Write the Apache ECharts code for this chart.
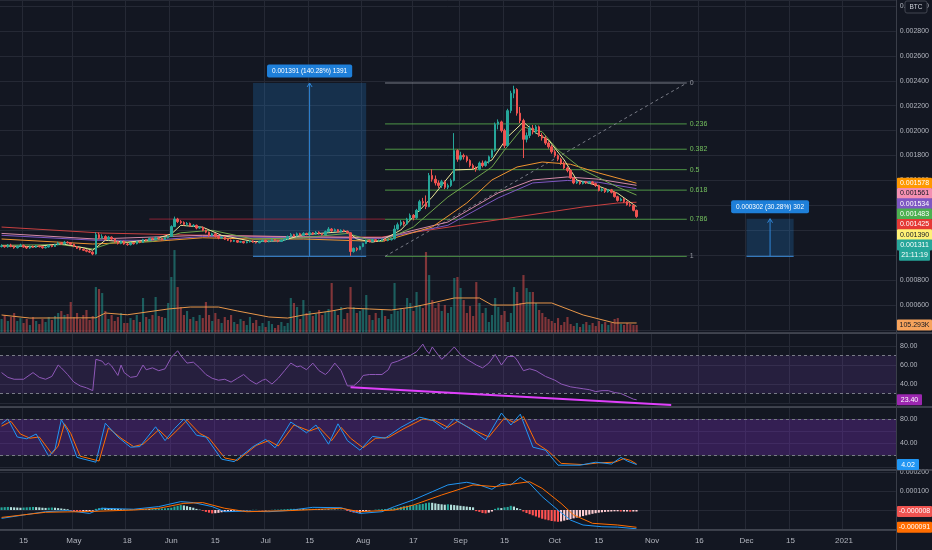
<!DOCTYPE html>
<html><head><meta charset="utf-8">
<script src="https://cdn.jsdelivr.net/npm/echarts@6.0.0/dist/echarts.min.js"></script>
<style>html,body{margin:0;padding:0;background:#131722;}#c{width:932px;height:550px;}</style>
</head><body><div id="c"></div>
<script>
const FONT = '"Liberation Sans", Arial, sans-serif';
// ---------- axis data ----------
const startDay = Date.UTC(2020, 3, 8);
const dayCount = 285;
const categories = [];
for (let k = 0; k < dayCount; k++) categories.push(new Date(startDay + k * 86400000).toISOString().slice(0, 10));
const tickDates = ['2020-04-15','2020-05-01','2020-05-18','2020-06-01','2020-06-15','2020-07-01','2020-07-15','2020-08-01','2020-08-17','2020-09-01','2020-09-15','2020-10-01','2020-10-15','2020-11-01','2020-11-16','2020-12-01','2020-12-15','2021-01-01'];
const tickTexts = ['15','May','18','Jun','15','Jul','15','Aug','17','Sep','15','Oct','15','Nov','16','Dec','15','2021'];

// ---------- candles (price in 0.000001 BTC) ----------
const opens = [1070,1075,1068,1082,1070,1060,1072,1080,1066,1058,
1070,1064,1075,1069,1060,1066,1078,1070,1085,1098,
1092,1105,1100,1088,1070,1055,1048,1040,1032,1025,
1010,1165,1140,1150,1128,1145,1130,1108,1095,1112,
1090,1085,1098,1092,1110,1102,1125,1118,1135,1128,
1140,1132,1125,1140,1150,1230,1290,1270,1262,1248,
1255,1235,1240,1218,1225,1200,1185,1160,1172,1150,
1138,1145,1128,1120,1112,1118,1105,1110,1100,1108,
1115,1105,1100,1112,1120,1108,1115,1125,1118,1110,
1122,1130,1150,1165,1155,1172,1160,1175,1168,1180,
1170,1185,1172,1165,1190,1210,1195,1205,1188,1200,
1192,1180,1030,1055,1045,1070,1095,1118,1110,1125,
1115,1120,1128,1118,1125,1132,1210,1245,1265,1250,
1290,1320,1300,1360,1430,1420,1390,1640,1610,1580,
1560,1590,1545,1560,1600,1840,1770,1800,1790,1760,
1720,1700,1690,1740,1720,1750,1790,1840,2050,2070,
2000,1880,2160,2300,2330,2140,2080,1930,1960,2020,
1990,2030,1960,1940,1900,1870,1830,1800,1770,1740,
1700,1680,1620,1580,1590,1575,1590,1580,1588,1575,
1560,1520,1530,1510,1525,1505,1470,1440,1450,1430,
1405,1400,1360];
const closes = [1075,1068,1082,1070,1060,1072,1080,1066,1058,1070,
1064,1075,1069,1060,1066,1078,1070,1085,1098,1092,
1105,1100,1088,1070,1055,1048,1040,1032,1025,1010,
1165,1140,1150,1128,1145,1130,1108,1095,1112,1090,
1085,1098,1092,1110,1102,1125,1118,1135,1128,1140,
1132,1125,1140,1150,1230,1290,1270,1262,1248,1255,
1235,1240,1218,1225,1200,1185,1160,1172,1150,1138,
1145,1128,1120,1112,1118,1105,1110,1100,1108,1115,
1105,1100,1112,1120,1108,1115,1125,1118,1110,1122,
1130,1150,1165,1155,1172,1160,1175,1168,1180,1170,
1185,1172,1165,1190,1210,1195,1205,1188,1200,1192,
1180,1030,1055,1045,1070,1095,1118,1110,1125,1115,
1120,1128,1118,1125,1132,1210,1245,1265,1250,1290,
1320,1300,1360,1430,1420,1390,1640,1610,1580,1560,
1590,1545,1560,1600,1840,1770,1800,1790,1760,1720,
1700,1690,1740,1720,1750,1790,1840,2050,2070,2000,
1880,2160,2300,2330,2140,2080,1930,1960,2020,1990,
2030,1960,1940,1900,1870,1830,1800,1770,1740,1700,
1680,1620,1580,1590,1575,1590,1580,1588,1575,1560,
1520,1530,1510,1525,1505,1470,1440,1450,1430,1405,
1400,1360,1311];
const highs = [1088,1082,1090,1092,1078,1080,1092,1086,1072,1078,
1078,1082,1080,1074,1072,1086,1084,1092,1108,1106,
1115,1112,1104,1092,1074,1062,1055,1046,1040,1032,
1185,1182,1168,1160,1155,1152,1138,1115,1120,1118,
1098,1104,1104,1116,1116,1132,1130,1142,1140,1150,
1146,1138,1146,1158,1240,1310,1300,1282,1272,1266,
1262,1250,1246,1232,1230,1206,1190,1180,1178,1156,
1152,1150,1134,1126,1124,1122,1116,1115,1114,1122,
1120,1110,1116,1126,1124,1120,1132,1130,1122,1128,
1136,1158,1178,1172,1182,1180,1185,1180,1192,1186,
1194,1192,1178,1198,1226,1218,1215,1210,1208,1206,
1198,1185,1062,1064,1076,1100,1125,1124,1132,1130,
1126,1134,1132,1130,1138,1240,1262,1282,1276,1300,
1335,1330,1372,1445,1460,1480,1660,1690,1640,1600,
1605,1600,1575,1615,1980,1850,1830,1815,1800,1770,
1735,1712,1752,1760,1760,1800,1850,2065,2090,2080,
2015,2175,2320,2360,2340,2190,2095,1985,2040,2045,
2045,2040,1980,1960,1915,1885,1845,1810,1782,1752,
1712,1690,1628,1600,1598,1598,1596,1595,1596,1582,
1566,1538,1540,1532,1532,1512,1478,1462,1458,1436,
1418,1408,1366];
const lows = [1062,1060,1060,1064,1052,1054,1066,1060,1050,1052,
1058,1058,1062,1052,1054,1062,1064,1066,1080,1084,
1088,1094,1080,1064,1050,1040,1034,1024,1018,1000,
1005,1130,1128,1120,1118,1122,1100,1086,1088,1084,
1076,1078,1086,1088,1096,1098,1110,1112,1120,1122,
1126,1118,1120,1134,1146,1225,1258,1250,1238,1236,
1226,1226,1208,1210,1192,1176,1148,1152,1142,1128,
1130,1122,1114,1104,1106,1098,1100,1094,1096,1102,
1100,1094,1096,1106,1102,1104,1110,1112,1104,1106,
1115,1126,1144,1146,1150,1154,1155,1160,1160,1162,
1164,1166,1158,1160,1184,1188,1188,1180,1182,1185,
1172,995,1020,1032,1040,1064,1090,1102,1104,1108,
1108,1112,1110,1112,1118,1126,1200,1232,1236,1242,
1282,1280,1292,1350,1400,1370,1385,1590,1560,1540,
1540,1530,1530,1548,1592,1750,1760,1768,1745,1705,
1690,1670,1680,1705,1710,1735,1780,1830,2010,1985,
1860,1870,2140,2260,2120,2060,1780,1905,1940,1970,
1975,1950,1920,1885,1855,1815,1785,1755,1725,1690,
1665,1612,1570,1572,1566,1568,1572,1574,1566,1548,
1512,1510,1500,1502,1496,1462,1430,1432,1420,1398,
1390,1352,1300];
// volume in K
const volumes = [184,237,158,211,263,158,197,132,184,105,
211,158,118,184,145,211,171,224,263,290,
237,250,408,211,263,184,237,303,171,224,
605,579,526,290,184,237,158,211,263,132,
132,197,171,237,145,461,211,184,237,474,
224,211,197,395,737,1092,605,342,237,290,
184,211,158,237,197,408,237,158,263,184,
132,211,171,237,145,118,184,158,105,211,
132,171,92,132,79,158,118,66,105,145,
92,132,461,395,342,184,434,263,290,224,
250,303,237,276,316,658,290,237,342,184,
263,605,342,263,290,316,500,237,171,263,
197,303,224,184,250,658,290,329,316,461,
395,290,540,368,329,1066,763,434,329,395,
290,368,263,342,724,737,592,434,263,355,
224,671,395,263,329,145,237,461,342,237,
290,145,263,605,540,395,763,592,540,540,
395,303,263,211,184,158,132,197,105,145,
211,118,92,132,79,118,145,105,132,92,
158,118,145,105,132,184,197,118,105,132,
118,105,105.293];
const volumeMA = [[0,237],[9,197],[30,200],[33,263],[40,240],[53,316],[60,342],[69,342],[75,290],[85,211],[91,197],[96,237],[105,290],[110,329],[117,316],[124,303],[131,342],[137,395],[144,461],[152,461],[156,368],[163,368],[167,395],[175,395],[185,237],[195,132],[202,132]];

// ---------- moving averages ----------
const maYellow = [[0,1075],[10,1068],[19,1092],[26,1060],[29,1040],[33,1120],[40,1105],[48,1125],[54,1170],[57,1240],[64,1225],[70,1160],[80,1110],[89,1115],[96,1165],[110,1192],[113,1130],[118,1105],[121,1120],[127,1202],[137,1467],[144,1684],[150,1690],[156,1764],[161,1949],[166,2069],[170,1981],[174,1925],[179,1764],[183,1604],[189,1563],[196,1497],[202,1390]];
const maGreen = [[0,1080],[19,1085],[29,1050],[35,1100],[48,1110],[57,1180],[67,1200],[80,1130],[96,1140],[110,1175],[116,1130],[121,1110],[131,1226],[142,1467],[150,1604],[156,1708],[160,1844],[166,2029],[172,1990],[177,1844],[185,1684],[196,1547],[202,1483]];
const maOrange = [[0,1130],[29,1090],[48,1110],[64,1140],[80,1130],[96,1130],[121,1110],[137,1226],[148,1419],[156,1604],[164,1708],[172,1748],[181,1730],[190,1660],[202,1578]];
const maPink = [[0,1175],[30,1130],[64,1160],[96,1148],[121,1140],[142,1266],[158,1500],[169,1604],[180,1628],[190,1610],[202,1561]];
const maPurple = [[0,1160],[30,1120],[48,1120],[64,1150],[96,1140],[121,1135],[142,1240],[158,1460],[169,1580],[180,1600],[190,1585],[202,1534]];
const maRed = [[0,1226],[32,1178],[64,1160],[96,1146],[121,1146],[153,1266],[185,1387],[196,1419],[202,1425]];
const supportLine = [['2020-05-25',1290],['2020-08-08',1290]];

// ---------- drawings ----------
const fibLevels = [0, 0.236, 0.382, 0.5, 0.618, 0.786, 1];
const fibHigh = 2382, fibLow = 991, fibStart = 122, fibEnd = 218;
const fibTrend = [[122,991],[218,2382]];
const boxStart = [80, 237], boxEnd = [116, 252], boxLow = [991, 991], boxHigh = [2382, 1293];
const boxText = ['0.001391 (140.28%) 1391', '0.000302 (30.28%) 302'];
const countdownText = '21:11:19';

// ---------- RSI ----------
const rsiLine = [[0,52],[2,47],[4,45],[7,45],[10,52],[12,47],[14,45],[16,48],[18,60],[19,57],[21,50],[23,42],[25,38],[27,36],[29,33],[30,66],[32,64],[33,60],[34,62],[35,59],[37,49],[38,60],[39,52],[41,47],[43,48],[45,60],[46,55],[48,57],[50,54],[52,56],[54,68],[56,75],[57,70],[59,62],[61,63],[63,57],[65,50],[67,46],[69,44],[71,45],[73,42],[75,46],[77,50],[79,44],[81,40],[83,44],[84,45],[86,40],[88,46],[90,54],[92,62],[94,58],[95,59],[97,55],[99,62],[101,54],[103,50],[104,53],[106,62],[108,54],[110,38],[112,38],[114,44],[115,49],[117,50],[119,50],[121,50],[123,55],[124,62],[126,64],[128,67],[130,70],[132,74],[134,82],[135,76],[136,72],[137,79],[139,70],[140,66],[142,72],[144,79],[146,71],[148,66],[151,60],[153,57],[155,62],[157,71],[159,60],[161,69],[163,69],[164,65],[166,54],[168,56],[170,54],[173,48],[176,44],[178,40],[181,37],[183,36],[185,35],[187,34],[189,32],[191,33],[193,33],[195,31],[197,30],[199,27],[201,24],[202,23.4]];
const rsiDivergence = [[111,36.5],[213,18]];

// ---------- Stoch RSI ----------
const stochK = [[0,72],[2,80],[5,50],[8,47],[11,55],[15,18],[17,30],[19,79],[21,60],[24,16],[30,8],[33,73],[37,50],[41,33],[44,34],[49,67],[52,44],[55,64],[58,80],[62,53],[65,50],[70,13],[74,9],[80,34],[84,46],[87,32],[92,75],[97,57],[100,70],[104,38],[107,72],[110,44],[114,28],[118,51],[122,48],[127,66],[133,83],[137,78],[141,63],[144,80],[149,64],[154,45],[159,90],[162,70],[165,88],[169,33],[173,28],[177,3],[184,3],[189,8],[194,5],[197,16],[199,10],[202,4.02]];
const stochD = [[0,68],[3,76],[6,55],[9,48],[12,50],[16,22],[18,35],[20,72],[22,56],[25,18],[31,10],[34,65],[38,48],[42,34],[45,38],[50,62],[53,47],[56,62],[59,78],[63,56],[66,48],[71,15],[75,11],[81,36],[85,44],[88,35],[93,70],[98,60],[101,66],[105,44],[108,66],[111,48],[115,32],[119,48],[123,49],[128,64],[134,80],[138,77],[142,66],[145,76],[150,62],[155,50],[160,82],[163,74],[166,84],[170,40],[174,26],[178,6],[185,4],[190,7],[195,8],[198,14],[200,11],[202,5]];

// ---------- MACD (0.000001 units) ----------
const macdLine = [[0,-44],[7,-26],[14,-9],[21,-3],[28,-18],[32,9],[42,4],[50,18],[57,44],[61,39],[67,18],[71,-9],[78,-6],[85,-9],[91,-3],[99,14],[108,12],[114,-18],[121,-9],[125,18],[131,53],[137,96],[142,132],[148,146],[152,132],[156,109],[159,140],[162,132],[165,172],[168,140],[172,70],[177,0],[181,-53],[185,-79],[191,-88],[196,-90],[202,-99]];
const macdSignal = [[0,-39],[14,-12],[28,-8],[42,0],[50,9],[58,35],[64,39],[71,9],[78,-9],[92,-3],[108,9],[114,-9],[125,0],[131,26],[140,79],[150,132],[157,123],[164,140],[168,149],[172,114],[178,35],[182,-26],[188,-70],[196,-79],[202,-91]];
const macdHist = [14,15,16,15,14,13,12,13,14,15,16,15,14,12,11,12,13,12,10,8,6,4,
-4,-6,-8,-9,-9,-8,-6,-4,
6,10,12,11,10,9,7,6,
4,3,3,2,3,4,4,5,6,5,6,7,8,8,9,10,12,
18,22,26,24,20,16,12,
6,2,-4,
-10,-14,-18,-17,-15,-12,-10,-8,-6,
-4,-3,-3,-2,-2,-1,1,1,-1,-2,-2,-1,1,2,2,
3,4,5,6,6,5,5,4,4,5,6,6,5,4,4,3,3,2,2,1,0,
-5,-10,-14,-16,-14,-10,-6,-3,
0,2,3,4,5,6,8,10,12,
16,20,22,24,26,28,30,32,36,39,38,
35,32,30,28,30,28,26,24,22,20,18,16,14,
-6,-10,-16,-18,-14,-8,
6,12,10,14,16,22,18,
10,4,
-8,-16,-22,-28,-34,-40,-46,-50,-54,-58,-60,-62,
-60,-56,-52,-48,-44,-40,-36,-32,-28,-24,-20,-17,-14,-12,-10,-9,
-8,-7,-7,-8,-8,-8,-9,-8,-8];

// ---------- build ----------
const tickSet = new Set(tickDates);
const tickMap = {}; tickDates.forEach((d, k) => tickMap[d] = tickTexts[k]);
const GRID_C = '#252935';
const TXT = '#b2b5be';
const tickFn = (idx, val) => tickSet.has(val);

function xAxisFor(g) {
  return {
    type: 'category', gridIndex: g, data: categories, boundaryGap: true,
    axisLine: {show: false}, axisTick: {show: false},
    axisLabel: {show: g === 4, interval: tickFn, formatter: v => tickMap[v] || '', color: TXT, fontSize: 8, fontFamily: FONT, margin: 8},
    splitLine: {show: g !== 1, interval: tickFn, lineStyle: {color: GRID_C, width: 1}}
  };
}
const yBase = (g, extra) => Object.assign({
  type: 'value', gridIndex: g, position: 'right', scale: false,
  axisLine: {show: false}, axisTick: {show: false},
  splitLine: {show: true, lineStyle: {color: GRID_C, width: 1}},
}, extra);

const candleRows = opens.map((o, k) => [o, closes[k], lows[k], highs[k]]);
const UP = '#26a69a', DN = '#ef5350';
const volData = volumes.map((v, k) => ({value: v, itemStyle: {color: closes[k] >= opens[k] ? 'rgba(38,166,154,0.5)' : 'rgba(239,83,80,0.5)'}}));
const histData = macdHist.map((v, k) => {
  const prev = k > 0 ? macdHist[k - 1] : v;
  const c = v >= 0 ? (v >= prev ? '#26a69a' : '#b2dfdb') : (v < prev ? '#ff5252' : '#ffcdd2');
  return {value: v, itemStyle: {color: c}};
});
const lineS = (name, data, color, xi, extra) => Object.assign({
  name, type: 'line', data, xAxisIndex: xi, yAxisIndex: xi, showSymbol: false, symbol: 'none', silent: true,
  lineStyle: {color, width: 1}, z: 4
}, extra || {});
const fmt6 = v => (v / 1e6).toFixed(6);

const option = {
  backgroundColor: '#131722',
  animation: false,
  textStyle: {fontFamily: FONT},
  grid: [
    {left: 0, right: 36, top: 0, height: 330},
    {left: 0, right: 36, top: 248, height: 85},
    {left: 0, right: 36, top: 333, height: 70},
    {left: 0, right: 36, top: 407, height: 60},
    {left: 0, right: 36, top: 472, height: 57}
  ],
  xAxis: [0, 1, 2, 3, 4].map(xAxisFor),
  yAxis: [
    yBase(0, {min: 400, max: 3048, interval: 200, axisLabel: {color: TXT, fontSize: 7, fontFamily: FONT, margin: 4, formatter: v => (v <= 400 || v % 200 !== 0) ? '' : fmt6(v)}}),
    yBase(1, {min: 0, max: 1119, show: false, splitLine: {show: false}}),
    yBase(2, {min: 20, max: 93.7, interval: 20, axisLabel: {color: TXT, fontSize: 7, fontFamily: FONT, margin: 4, formatter: v => [40, 60, 80].includes(v) ? v.toFixed(2) : ''}}),
    yBase(3, {min: 0, max: 100, interval: 20, axisLabel: {color: TXT, fontSize: 7, fontFamily: FONT, margin: 4, formatter: v => [40, 80].includes(v) ? v.toFixed(2) : ''}}),
    yBase(4, {min: -100, max: 200, interval: 100, axisLabel: {color: TXT, fontSize: 7, fontFamily: FONT, margin: 4, formatter: v => v > 0 ? fmt6(v) : ''}})
  ],
  series: [
    // volume
    {name: 'Volume', type: 'bar', xAxisIndex: 1, yAxisIndex: 1, data: volData, barWidth: '68%', silent: true, z: 1},
    lineS('Vol MA', volumeMA, '#e8974a', 1, {z: 2}),
    // measurement boxes
    {
      type: 'custom', xAxisIndex: 0, yAxisIndex: 0, silent: true, z: 2, clip: false,
      data: boxStart.map((s, k) => [s, boxEnd[k], boxLow[k], boxHigh[k], k]),
      encode: {x: 0, y: 3},
      renderItem: (params, api) => {
        const k = api.value(4);
        const tl = api.coord([boxStart[k], boxHigh[k]]);
        const br = api.coord([boxEnd[k], boxLow[k]]);
        const mx = (tl[0] + br[0]) / 2;
        return {type: 'group', children: [
          {type: 'rect', shape: {x: tl[0], y: tl[1], width: br[0] - tl[0], height: br[1] - tl[1]}, style: {fill: 'rgba(33,150,243,0.2)'}},
          {type: 'line', shape: {x1: tl[0], y1: br[1], x2: br[0], y2: br[1]}, style: {stroke: '#3d8bd6', lineWidth: 1}},
          {type: 'line', shape: {x1: mx, y1: br[1], x2: mx, y2: tl[1]}, style: {stroke: '#2f86d8', lineWidth: 1}},
          {type: 'polyline', shape: {points: [[mx - 2.5, tl[1] + 4], [mx, tl[1]], [mx + 2.5, tl[1] + 4]]}, style: {stroke: '#2f86d8', lineWidth: 1, fill: null}},
          {type: 'text', x: mx, y: tl[1] - 12, style: {text: boxText[k], fill: '#ffffff', font: '6.5px ' + FONT, align: 'center', verticalAlign: 'middle', backgroundColor: '#1e7fd9', padding: [3, 5], borderRadius: 2}}
        ]};
      }
    },
    // horizontal support line
    lineS('Support', supportLine, 'rgba(178,40,60,0.75)', 0, {z: 2}),
    // fib retracement
    {
      type: 'custom', xAxisIndex: 0, yAxisIndex: 0, silent: true, z: 3, clip: false,
      data: fibLevels.map(l => [fibStart, fibHigh - l * (fibHigh - fibLow), l]),
      encode: {x: 0, y: 1},
      renderItem: (params, api) => {
        const lvl = api.value(2), p = api.value(1);
        const a = api.coord([fibStart, p]);
        const b = api.coord([fibEnd, p]);
        const col = lvl === 0 ? '#787b86' : 'rgba(88,170,76,0.85)';
        return {type: 'group', children: [
          {type: 'line', shape: {x1: a[0], y1: a[1], x2: b[0], y2: b[1]}, style: {stroke: col, lineWidth: 1}},
          {type: 'text', x: b[0] + 3, y: b[1], style: {text: String(lvl), fill: (lvl === 0 || lvl === 1) ? '#9598a1' : '#74c05e', font: '7px ' + FONT, verticalAlign: 'middle'}}
        ]};
      }
    },
    lineS('Fib trend', fibTrend, '#787b86', 0, {lineStyle: {color: '#787b86', width: 1, type: [3, 3]}, z: 3}),
    // moving averages
    lineS('MA red', maRed, '#c94040', 0),
    lineS('MA purple', maPurple, '#7e57c2', 0),
    lineS('MA pink', maPink, '#d48aa8', 0),
    lineS('MA orange', maOrange, '#ef9430', 0),
    lineS('MA green', maGreen, '#6fa54c', 0),
    lineS('MA yellow', maYellow, '#ece79a', 0),
    // candles
    {name: 'Price', type: 'candlestick', xAxisIndex: 0, yAxisIndex: 0, data: candleRows, barWidth: '62%', silent: true, z: 5,
      itemStyle: {color: UP, color0: DN, borderColor: UP, borderColor0: DN, borderWidth: 1}},
    // RSI
    lineS('RSI', rsiLine, '#8e58b8', 2, {
      markArea: {silent: true, itemStyle: {color: 'rgba(126,70,194,0.18)'}, data: [[{yAxis: 30}, {yAxis: 70}]]},
      markLine: {silent: true, symbol: 'none', label: {show: false}, lineStyle: {color: '#787b86', type: [3, 3], width: 1}, data: [{yAxis: 70}, {yAxis: 30}]}
    }),
    lineS('Divergence', rsiDivergence, '#e040fb', 2, {lineStyle: {color: '#e040fb', width: 2}, clip: false, z: 6}),
    // Stoch RSI
    lineS('Stoch D', stochD, '#ff6d00', 3, {
      markArea: {silent: true, itemStyle: {color: 'rgba(128,50,200,0.3)'}, data: [[{yAxis: 20}, {yAxis: 80}]]},
      markLine: {silent: true, symbol: 'none', label: {show: false}, lineStyle: {color: '#787b86', type: [3, 3], width: 1}, data: [{yAxis: 80}, {yAxis: 20}]}
    }),
    lineS('Stoch K', stochK, '#2196f3', 3),
    // MACD
    {name: 'Histogram', type: 'bar', xAxisIndex: 4, yAxisIndex: 4, data: histData, barWidth: '68%', silent: true, z: 3},
    lineS('MACD', macdLine, '#2196f3', 4),
    lineS('Signal', macdSignal, '#ff6d00', 4)
  ]
};

const chart = echarts.init(document.getElementById('c'), null, {renderer: 'canvas'});
chart.setOption(option);

// ---------- price-scale tags ----------
const last = arr => { const v = arr[arr.length - 1]; return Array.isArray(v) ? v[1] : v; };
const yPix = (axis, v) => chart.convertToPixel({yAxisIndex: axis}, v);
function tag(y, text, bg, fg, x0, w) {
  return {type: 'group', z: 100, children: [
    {type: 'rect', z: 100, shape: {x: x0, y: y - 5.5, width: w, height: 11, r: 1}, style: {fill: bg}},
    {type: 'text', z: 101, x: x0 + w / 2, y: y, style: {text, fill: fg, font: '7px ' + FONT, align: 'center', verticalAlign: 'middle'}}
  ]};
}
const graphics = [];
// pane separators & price-scale border
[333, 407, 470, 530].forEach(y => graphics.push({type: 'line', z: 90, shape: {x1: 0, y1: y, x2: 932, y2: y}, style: {stroke: '#4a4e59', lineWidth: 1.5}}));
graphics.push({type: 'line', z: 90, shape: {x1: 896.5, y1: 0, x2: 896.5, y2: 550}, style: {stroke: '#3a3e49', lineWidth: 1}});

const priceTags = [
  {v: last(maOrange), bg: '#ff9800', fg: '#ffffff'},
  {v: last(maPink), bg: '#f48fb1', fg: '#131722'},
  {v: last(maPurple), bg: '#7e57c2', fg: '#ffffff'},
  {v: last(maGreen), bg: '#4caf50', fg: '#ffffff'},
  {v: last(maRed), bg: '#e53935', fg: '#ffffff'},
  {v: last(maYellow), bg: '#fff176', fg: '#131722'},
  {v: last(closes), bg: '#26a69a', fg: '#ffffff', countdown: true}
].sort((a, b) => b.v - a.v);
let prevY = -Infinity;
priceTags.forEach(t => {
  const y = Math.max(yPix(0, t.v), prevY + 10.3);
  prevY = y;
  graphics.push(tag(y, fmt6(t.v), t.bg, t.fg, 897, 35));
  if (t.countdown) { prevY = y + 10.3; graphics.push(tag(prevY, countdownText, '#26a69a', '#ffffff', 899, 31)); }
});
graphics.push(tag(yPix(1, last(volumes)), last(volumes).toFixed(3) + 'K', '#f7a35c', '#131722', 897, 35));
graphics.push(tag(yPix(2, last(rsiLine)), last(rsiLine).toFixed(2), '#9c27b0', '#ffffff', 897, 25));
graphics.push(tag(yPix(3, last(stochK)), last(stochK).toFixed(2), '#2196f3', '#ffffff', 897, 22));
graphics.push(tag(yPix(4, last(macdHist)), fmt6(last(macdHist)), '#ef5350', '#ffffff', 897, 35));
graphics.push(tag(yPix(4, last(macdSignal)), fmt6(last(macdSignal)), '#ff6d00', '#ffffff', 897, 35));
// BTC currency box
graphics.push({type: 'rect', z: 100, shape: {x: 905, y: 1, width: 22, height: 12, r: 2}, style: {fill: '#131722', stroke: '#434651', lineWidth: 1}});
graphics.push({type: 'text', z: 101, x: 916, y: 7, style: {text: 'BTC', fill: '#d1d4dc', font: '6.5px ' + FONT, align: 'center', verticalAlign: 'middle'}});
chart.setOption({graphic: graphics});
</script></body></html>
